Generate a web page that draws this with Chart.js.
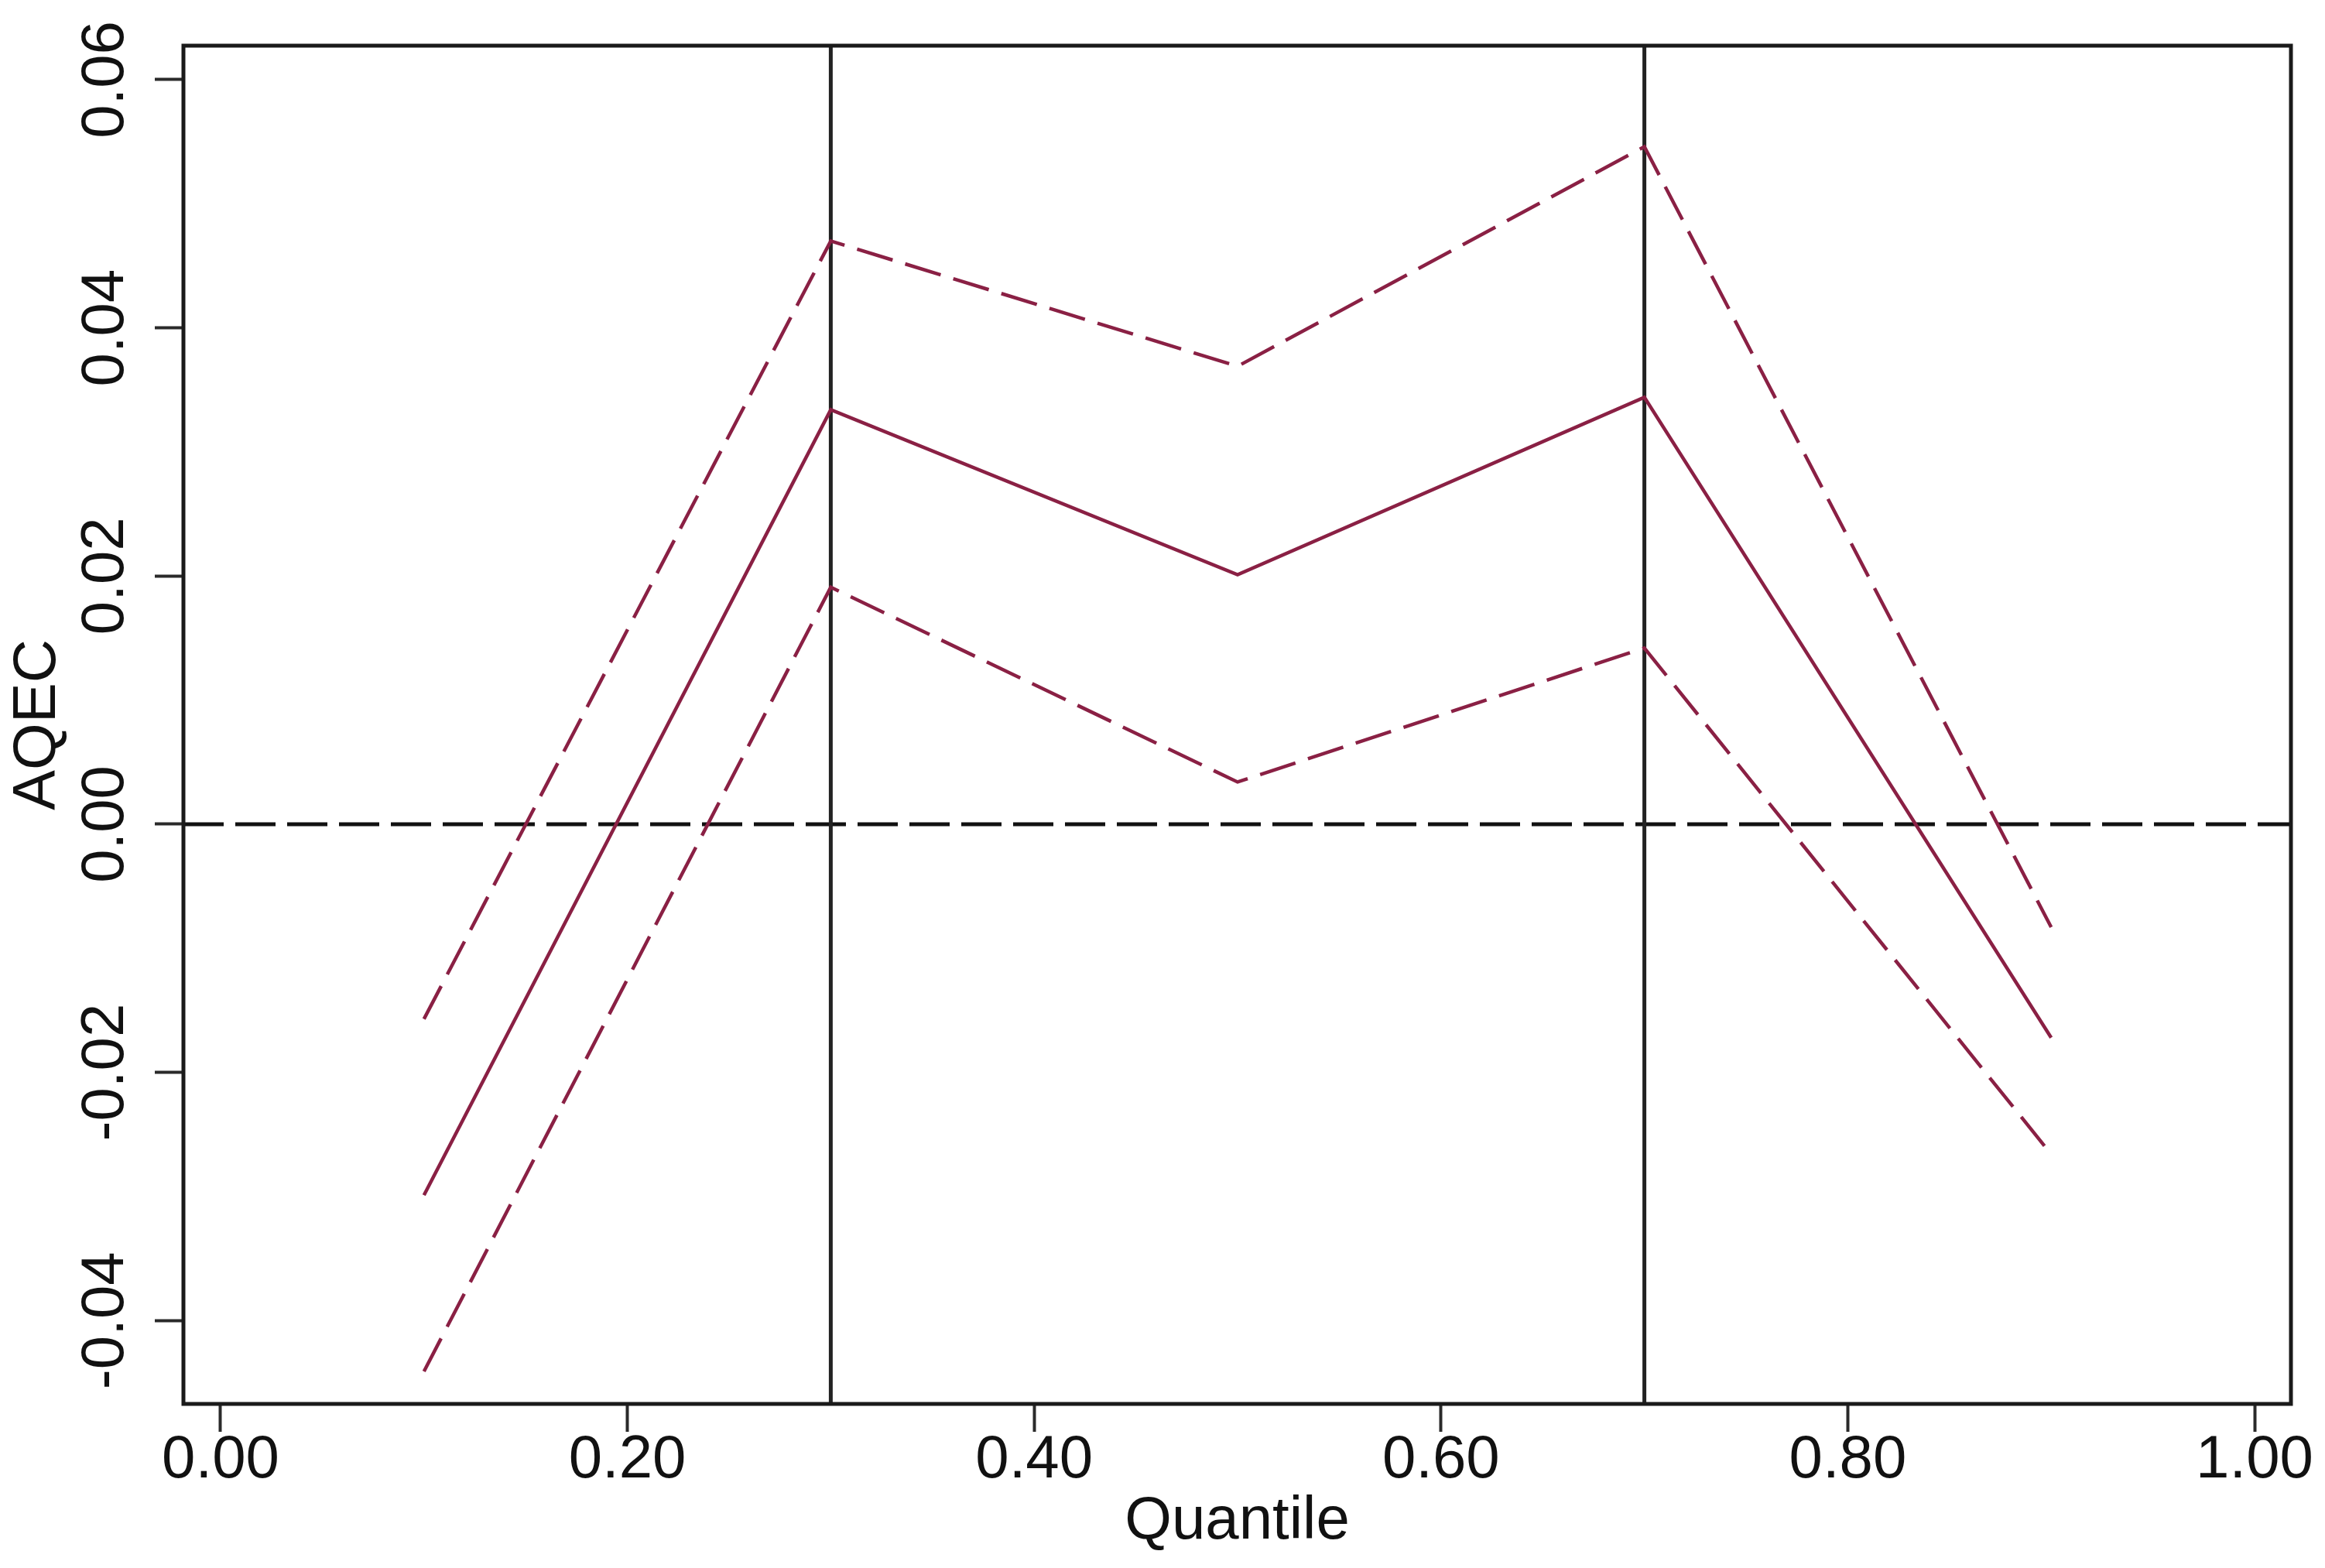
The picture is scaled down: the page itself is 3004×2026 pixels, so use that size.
<!DOCTYPE html>
<html><head><meta charset="utf-8">
<script src="https://cdn.jsdelivr.net/npm/chart.js@4.4.1/dist/chart.umd.min.js"></script>
<style>html,body{margin:0;padding:0;background:#fff;} #wrap{width:3004px;height:2026px;}</style>
</head><body><div id="wrap"><canvas id="c" width="3004" height="2026"></canvas></div>
<script>
const quantiles = [0.1, 0.3, 0.5, 0.7, 0.9];
const aqec = [-0.0299, 0.0334, 0.0201, 0.0344, -0.0172];
const upperBand = [-0.0157, 0.0470, 0.0369, 0.0546, -0.0083];
const lowerBand = [-0.0441, 0.0191, 0.0034, 0.0142, -0.0266];
const xTicks = [0, 0.2, 0.4, 0.6, 0.8, 1.0];
const xTickLabels = ['0.00', '0.20', '0.40', '0.60', '0.80', '1.00'];
const yTicks = [-0.04, -0.02, 0, 0.02, 0.04, 0.06];
const yTickLabels = ['-0.04', '-0.02', '0.00', '0.02', '0.04', '0.06'];
const vRefLines = [0.3, 0.7];
const hRefLines = [0];

const FONT = '"Liberation Sans", Arial, sans-serif';
const LINE = '#8a2044';
const toPts = arr => quantiles.map((q, i) => ({x: q, y: arr[i]}));

const refLinesPlugin = {
  id: 'refLines',
  beforeDatasetsDraw(chart) {
    const {ctx, chartArea: a, scales: {x, y}} = chart;
    ctx.save();
    ctx.beginPath(); ctx.rect(a.left, a.top, a.right - a.left, a.bottom - a.top); ctx.clip();
    ctx.strokeStyle = '#111';
    ctx.lineWidth = 5;
    ctx.setLineDash([52, 15]);
    hRefLines.forEach(v => {
      const py = y.getPixelForValue(v);
      ctx.beginPath(); ctx.moveTo(a.left, py); ctx.lineTo(a.right, py); ctx.stroke();
    });
    ctx.setLineDash([]);
    ctx.strokeStyle = '#222';
    ctx.lineWidth = 5;
    vRefLines.forEach(v => {
      const px = x.getPixelForValue(v);
      ctx.beginPath(); ctx.moveTo(px, a.top); ctx.lineTo(px, a.bottom); ctx.stroke();
    });
    ctx.restore();
  },
  afterDatasetsDraw(chart) {
    const {ctx, chartArea: a} = chart;
    ctx.save();
    ctx.strokeStyle = '#1a1a1a';
    ctx.lineWidth = 5;
    ctx.strokeRect(a.left, a.top, a.right - a.left, a.bottom - a.top);
    ctx.restore();
  }
};

new Chart(document.getElementById('c'), {
  type: 'line',
  data: {
    datasets: [
      {label: 'AQEC', data: toPts(aqec), borderColor: LINE, borderWidth: 4.5, pointRadius: 0, tension: 0, fill: false},
      {label: 'Upper', data: toPts(upperBand), borderColor: LINE, borderWidth: 4.5, borderDash: [48, 17], pointRadius: 0, tension: 0, fill: false},
      {label: 'Lower', data: toPts(lowerBand), borderColor: LINE, borderWidth: 4.5, borderDash: [48, 17], pointRadius: 0, tension: 0, fill: false}
    ]
  },
  options: {
    responsive: false,
    devicePixelRatio: 1,
    animation: false,
    layout: {padding: {top: 59, right: 44, left: 0, bottom: 0}},
    plugins: {legend: {display: false}, tooltip: {enabled: false}},
    scales: {
      x: {
        type: 'linear',
        min: -0.01826, max: 1.01788,
        afterBuildTicks: s => { s.ticks = xTicks.map(v => ({value: v})); },
        afterFit: s => { s.height = 212; },
        border: {display: false},
        grid: {display: true, drawOnChartArea: false, drawTicks: true, tickLength: 36, tickWidth: 4, tickColor: '#2a2a2a'},
        ticks: {
          padding: -9, color: '#111', font: {family: FONT, size: 78},
          maxRotation: 0, minRotation: 0,
          callback: (v, i) => xTickLabels[i]
        },
        title: {display: true, text: 'Quantile', color: '#111', font: {family: FONT, size: 78}, padding: 13}
      },
      y: {
        type: 'linear',
        min: -0.04672, max: 0.06274,
        afterBuildTicks: s => { s.ticks = yTicks.map(v => ({value: v})); },
        afterFit: s => { s.width = 237; },
        border: {display: false},
        grid: {display: true, drawOnChartArea: false, drawTicks: true, tickLength: 37, tickWidth: 4, tickColor: '#2a2a2a'},
        ticks: {
          padding: -26, color: '#111', font: {family: FONT, size: 78},
          minRotation: 90, maxRotation: 90, crossAlign: 'center',
          callback: (v, i) => yTickLabels[i]
        },
        title: {display: true, text: 'AQEC', color: '#111', font: {family: FONT, size: 78}, padding: 3}
      }
    }
  },
  plugins: [refLinesPlugin]
});
</script>
</body></html>
